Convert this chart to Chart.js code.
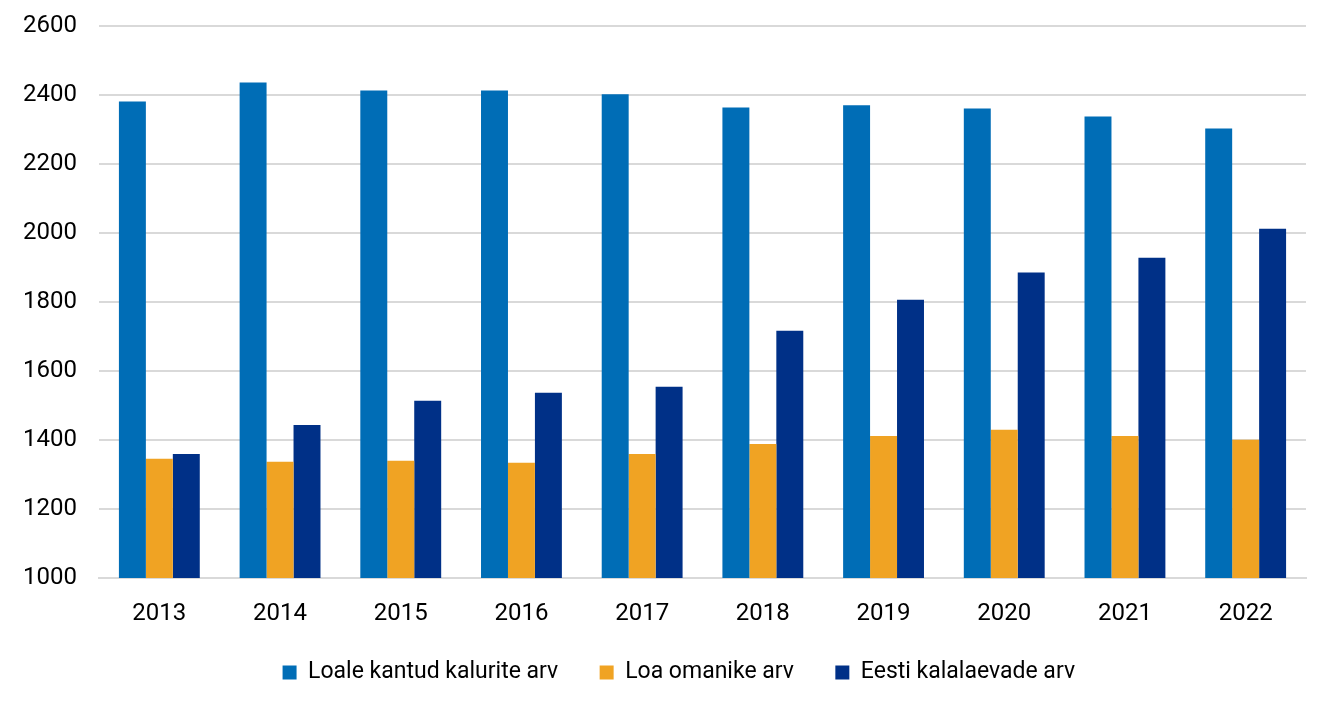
<!DOCTYPE html>
<html>
<head>
<meta charset="utf-8">
<script src="https://cdn.jsdelivr.net/npm/chart.js@4"></script>
<style>
  body { margin: 0; background: #fff; }
  #wrap { width: 1338px; height: 701px; }
</style>
</head>
<body>
<div id="wrap"><canvas id="chart"></canvas></div>
<script>
const years = ["2013", "2014", "2015", "2016", "2017", "2018", "2019", "2020", "2021", "2022"];
const kalurid = [2382, 2437, 2414, 2414, 2403, 2365, 2371, 2362, 2339, 2304];
const omanikud = [1346, 1337, 1340, 1334, 1360, 1389, 1412, 1430, 1412, 1401];
const laevad = [1360, 1444, 1514, 1537, 1555, 1717, 1807, 1886, 1929, 2013];

const font = "'Roboto', sans-serif";

// fixed legend height, and legend nudged a little to the right like the original
const legendPlace = {
    id: "legendPlace",
    beforeInit(chart) {
        const lg = chart.legend;
        const fit = lg.fit;
        lg.fit = function () {
            fit.bind(lg)();
            this.height = 70;
        };
        const draw = lg.draw;
        lg.draw = function () {
            const ctx = chart.ctx;
            ctx.save();
            ctx.translate(20, 0);
            draw.bind(lg)();
            ctx.restore();
        };
    }
};

new Chart(document.getElementById("chart"), {
    type: "bar",
    data: {
        labels: years,
        datasets: [
            { label: "Loale kantud kalurite arv", data: kalurid, backgroundColor: "#006db6" },
            { label: "Loa omanike arv", data: omanikud, backgroundColor: "#f0a323" },
            { label: "Eesti kalalaevade arv", data: laevad, backgroundColor: "#003087" }
        ]
    },
    options: {
        responsive: true,
        maintainAspectRatio: false,
        animation: false,
        layout: { padding: { top: 0, right: 32, left: 23, bottom: 0 } },
        datasets: { bar: { categoryPercentage: 0.67, barPercentage: 1 } },
        scales: {
            x: {
                grid: { display: false },
                border: { color: "#d9d9d9", width: 2 },
                ticks: { color: "#000", font: { family: font, size: 24 }, padding: 14 },
                afterFit(scale) { scale.height = 53; }
            },
            y: {
                min: 1000,
                max: 2600,
                ticks: {
                    stepSize: 200,
                    color: "#000",
                    font: { family: font, size: 24 },
                    padding: 12,
                    crossAlign: "far",
                    callback: v => String(v)
                },
                grid: { color: "#d9d9d9", lineWidth: 2, drawTicks: false },
                border: { display: false },
                afterFit(scale) { scale.width = 76; }
            }
        },
        plugins: {
            legend: {
                position: "bottom",
                labels: {
                    color: "#000",
                    font: { family: font, size: 23 },
                    boxWidth: 14,
                    boxHeight: 14,
                    padding: 30,
                    generateLabels(chart) {
                        const items = Chart.defaults.plugins.legend.labels.generateLabels(chart);
                        items.forEach(it => { it.text = it.text + "  "; });
                        return items;
                    }
                }
            },
            tooltip: { enabled: false }
        }
    },
    plugins: [legendPlace]
});
</script>
</body>
</html>
